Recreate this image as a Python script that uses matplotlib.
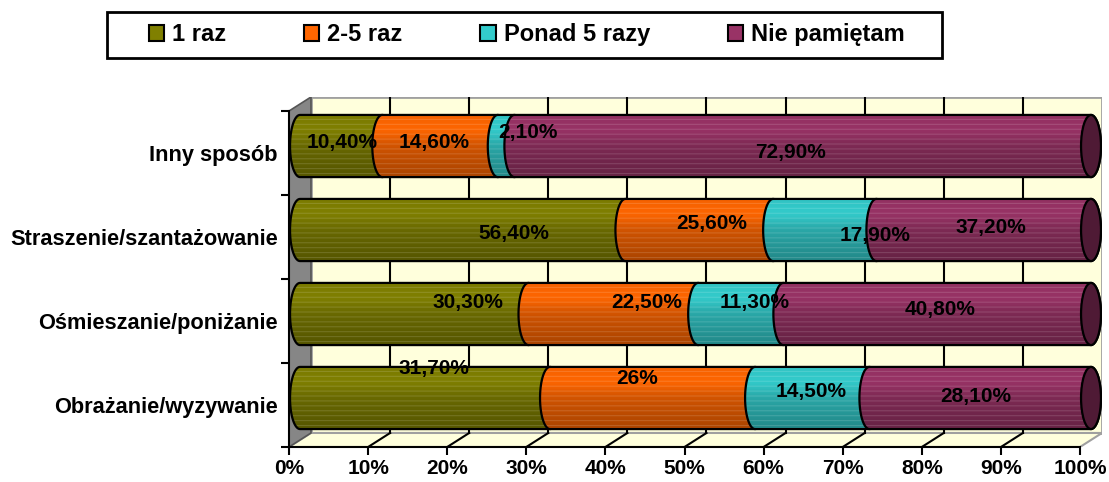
import numpy as np
import matplotlib.pyplot as plt
from matplotlib.patches import Polygon, PathPatch, Patch, Ellipse, Rectangle
from matplotlib.path import Path
from matplotlib.colors import to_rgb

plt.rcParams['font.family'] = ['Liberation Sans', 'DejaVu Sans']

# categories listed bottom -> top
categories = ['Obrażanie/wyzywanie', 'Ośmieszanie/poniżanie',
              'Straszenie/szantażowanie', 'Inny sposób']
series = ['1 raz', '2-5 raz', 'Ponad 5 razy', 'Nie pamiętam']
once = [31.7, 30.3, 56.4, 10.4]
two_five = [26.0, 22.5, 25.6, 14.6]
over_five = [14.5, 11.3, 17.9, 2.1]
dont_remember = [28.1, 40.8, 37.2, 72.9]
xticks = [0, 10, 20, 30, 40, 50, 60, 70, 80, 90, 100]

colors = ['#808000', '#FF6600', '#33CCCC', '#993366']
cap_color = '#4F1A35'
wall_color = '#FFFFDC'

# label nudges in pixels (x right, y down), Excel's 3D label placement
nudges = [
    [(9, -29), (-15, -19), (-1, -6), (-4, -1)],
    [(54, -11), (33, -11), (14, -11), (3, -4)],
    [(51, 3), (12, -7), (50, 5), (7, -3)],
    [(1, -3.5), (-6, -3.5), (22, -13.5), (-12, 6.5)],
]

DX, DY = 2.78, 0.167      # depth of the 3D box in data units
BAR_H = 0.74
RX = 1.26                 # half width of the cylinder end ellipse


def fmt(v):
    if v == int(v):
        return '%d%%' % v
    return ('%.2f' % v).replace('.', ',') + '%'


def shade(color, rows=64):
    base = np.array(to_rgb(color))
    t = np.linspace(0, 1, rows)
    f = 0.95 + 0.1 * np.exp(-((t - 0.25) / 0.18) ** 2) - 0.28 * t
    img = np.clip(base[None, :] * f[:, None], 0, 1)
    stripe = (np.arange(rows) % 5) == 0
    img[stripe] = img[stripe] * 0.85 + 0.15
    return img[:, None, :]


def seg_path(a, b, c):
    ry = BAR_H / 2
    th = np.linspace(np.pi / 2, -np.pi / 2, 40)
    right = np.column_stack([b + RX * np.cos(th), c + ry * np.sin(th)])
    th2 = np.linspace(-np.pi / 2, -3 * np.pi / 2, 40)
    left = np.column_stack([a + RX * np.cos(th2), c + ry * np.sin(th2)])
    pts = np.vstack([[a, c + ry], right, left, [[a, c + ry]]])
    return Path(pts, closed=True)


fig = plt.figure(figsize=(11.09, 4.82), dpi=100)
ax = fig.add_axes([289 / 1109, 35 / 482, 813 / 1109, 350 / 482])

n = len(categories)
y_lo, y_hi = -0.5, n - 0.5

# back wall, floor and left side wall
ax.add_patch(Polygon([(DX, y_lo + DY), (100 + DX, y_lo + DY),
                      (100 + DX, y_hi + DY), (DX, y_hi + DY)],
                     closed=True, fc=wall_color, ec='#A0A0A0', lw=2, zorder=0))
ax.add_patch(Polygon([(0, y_lo), (100, y_lo), (100 + DX, y_lo + DY), (DX, y_lo + DY)],
                     closed=True, fc=wall_color, ec='#A0A0A0', lw=1.5, zorder=0.5))
ax.add_patch(Polygon([(0, y_lo), (DX, y_lo + DY), (DX, y_hi + DY), (0, y_hi)],
                     closed=True, fc='#868686', ec='#555555', lw=1.2, zorder=0.6))
for xv in xticks[1:-1]:
    ax.plot([xv + DX, xv + DX], [y_lo + DY, y_hi + DY], color='black', lw=1.5, zorder=0.8)
    ax.plot([xv, xv + DX], [y_lo, y_lo + DY], color='black', lw=1.5, zorder=0.8)

# stacked cylinders (100% stacked)
table = np.array([once, two_five, over_five, dont_remember]).T
for i in range(n):
    row = table[i]
    share = row / row.sum() * 100
    start = np.concatenate([[0], np.cumsum(share)[:-1]])
    c = i + DY / 2
    for k in range(len(series)):
        a = start[k] + DX / 2
        b = start[k] + share[k] + DX / 2
        z = 2 + k * 0.3
        patch = PathPatch(seg_path(a, b, c), fc='none', ec='black', lw=1.6, zorder=z + 0.1)
        ax.add_patch(patch)
        im = ax.imshow(shade(colors[k]), extent=(a - RX, b + RX, c - BAR_H / 2, c + BAR_H / 2),
                       aspect='auto', origin='upper', interpolation='bilinear', zorder=z)
        im.set_clip_path(patch)
        dx, dy = nudges[i][k]
        ax.annotate(fmt(row[k]), xy=((a + b) / 2, c), xytext=(dx, -dy),
                    textcoords='offset pixels', ha='center', va='center',
                    fontsize=15, fontweight='bold', color='black', zorder=10)
    ax.add_patch(Ellipse((100 + DX / 2, c), 2 * RX, BAR_H, fc=cap_color,
                         ec='black', lw=1.6, zorder=4))

ax.set_xlim(0, 100 + DX)
ax.set_ylim(-0.5, 3.5 + DY)

# axes styling
for s in ['top', 'right']:
    ax.spines[s].set_visible(False)
ax.spines['bottom'].set_bounds(0, 100)
ax.spines['left'].set_bounds(y_lo, y_hi)
ax.spines['bottom'].set_linewidth(1.5)
ax.spines['left'].set_linewidth(1.5)
ax.spines['bottom'].set_zorder(5)
ax.spines['left'].set_zorder(5)

ax.set_xticks(xticks)
ax.set_xticklabels(['%d%%' % v for v in xticks], fontsize=15, fontweight='bold')
ax.tick_params(axis='x', direction='out', length=6, width=1.5, pad=3)
ax.set_yticks(range(n))
ax.set_yticklabels(categories, fontsize=15.7, fontweight='bold')
ax.set_yticks(np.arange(n + 1) - 0.5, minor=True)
ax.tick_params(axis='y', which='major', length=0, pad=8)
ax.tick_params(axis='y', which='minor', length=6, width=1.5)
ax.set_facecolor('none')

# legend: frame drawn separately to get Excel's wide box
fig.patches.append(Rectangle((107 / 1109, 1 - 58 / 482), 835 / 1109, 46 / 482,
                             transform=fig.transFigure, fc='white', ec='black', lw=2))
handles = [Patch(facecolor=col, edgecolor='black', lw=1.5) for col in colors]
leg = fig.legend(handles, series, loc='center left', bbox_to_anchor=(149 / 1109, 1 - 34.5 / 482),
                 ncol=4, prop={'size': 17, 'weight': 'bold'}, handlelength=0.64,
                 handleheight=0.64, handletextpad=0.34, columnspacing=3.3, borderpad=0,
                 borderaxespad=0, frameon=False)

fig.savefig('out.png', dpi=100)
